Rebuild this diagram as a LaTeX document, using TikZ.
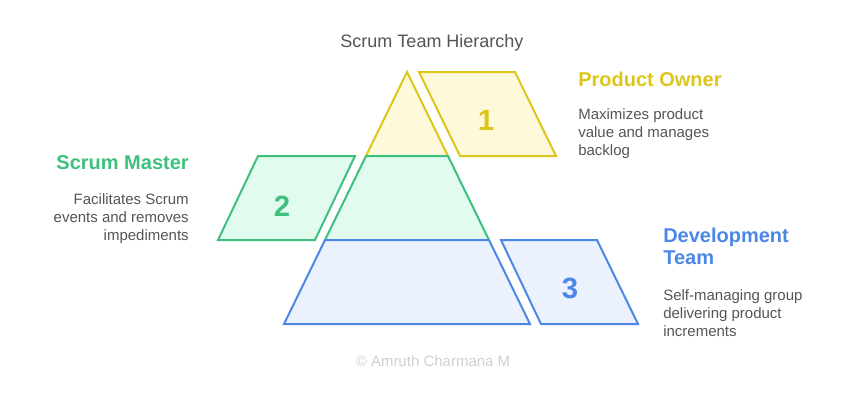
\documentclass[tikz,border=0pt]{standalone}
\usepackage{fontspec}
\setmainfont{Liberation Sans}
\usetikzlibrary{math}
\definecolor{poyellow}{HTML}{DDC51A}
\definecolor{poyellowfill}{HTML}{FEF9DB}
\definecolor{smgreen}{HTML}{3DC07E}
\definecolor{smgreenfill}{HTML}{E1FBEE}
\definecolor{dtblue}{HTML}{4C87E6}
\definecolor{dtbluefill}{HTML}{EBF2FE}
\definecolor{desctext}{HTML}{555555}
\definecolor{marktext}{HTML}{CFCFCF}

\begin{document}
\begin{tikzpicture}[x=0.75pt,y=-0.75pt,
  layer/.style={line width=1.5pt, line join=miter},
  num/.style={inner sep=0, font=\fontsize{22}{26}\selectfont\bfseries},
  head/.style={inner sep=0, font=\fontsize{15}{18}\selectfont\bfseries},
  desc/.style={inner sep=0, text=desctext, font=\fontsize{11.25}{13.5}\selectfont}]
\tikzmath{
\ax=407; \ay=72;
\h=84;
\s=41;
}
\useasboundingbox (0,0) rectangle (852,397);

\node[inner sep=0, anchor=base, text=desctext, font=\fontsize{13.5}{16}\selectfont] (title) at (432,47) {Scrum Team Hierarchy};

% pyramid
\filldraw[layer, draw=poyellow, fill=poyellowfill] (\ax,\ay) -- (\ax+\s,\ay+\h) -- (\ax-\s,\ay+\h) -- cycle;
\filldraw[layer, draw=smgreen, fill=smgreenfill] (\ax-\s,\ay+\h) -- (\ax+\s,\ay+\h) -- (\ax+2*\s,\ay+2*\h) -- (\ax-2*\s,\ay+2*\h) -- cycle;
\filldraw[layer, draw=dtblue, fill=dtbluefill] (\ax-2*\s,\ay+2*\h) -- (\ax+2*\s,\ay+2*\h) -- (\ax+3*\s,\ay+3*\h) -- (\ax-3*\s,\ay+3*\h) -- cycle;

% number tags
\filldraw[layer, draw=poyellow, fill=poyellowfill] (419,72) -- (515,72) -- (556,156) -- (460,156) -- cycle;
\filldraw[layer, draw=smgreen, fill=smgreenfill] (258,156) -- (355,156) -- (315,240) -- (218,240) -- cycle;
\filldraw[layer, draw=dtblue, fill=dtbluefill] (501,240) -- (597,240) -- (638,324) -- (541,324) -- cycle;
\node[num, text=poyellow] (one) at (486,120) {1};
\node[num, text=smgreen] (two) at (282,206) {2};
\node[num, text=dtblue] (three) at (570,288) {3};

% labels (base = last line)
\node[head, text=poyellow, anchor=base west] (po) at (578,86) {Product Owner};
\node[desc, anchor=base west, align=left] (podesc) at (578,155) {Maximizes product\\value and manages\\backlog};

\node[head, text=smgreen, anchor=base east] (sm) at (189,169) {Scrum Master};
\node[desc, anchor=base east, align=right] (smdesc) at (189,240) {Facilitates Scrum\\events and removes\\impediments};

\node[head, text=dtblue, anchor=base west, align=left] (dt) at (663,264) {Development\\[-1.5pt]Team};
\node[desc, anchor=base west, align=left] (dtdesc) at (663,336) {Self-managing group\\delivering product\\increments};

\node[inner sep=0, anchor=base, text=marktext, font=\fontsize{11.25}{13.5}\selectfont] (mark) at (433,366) {© Amruth Charmana M};
\end{tikzpicture}
\end{document}
